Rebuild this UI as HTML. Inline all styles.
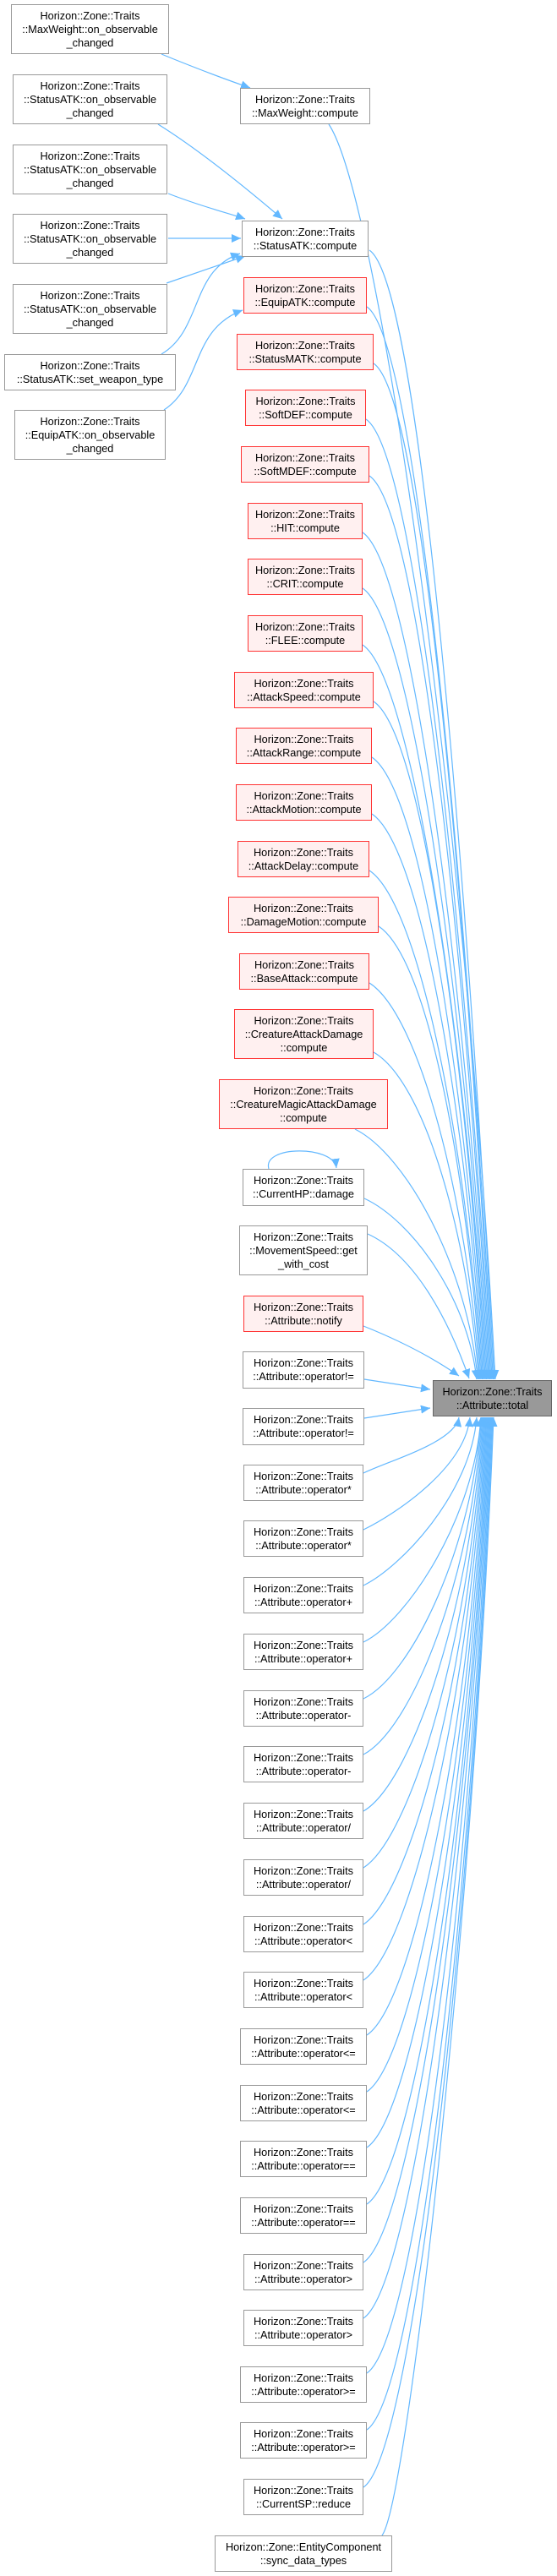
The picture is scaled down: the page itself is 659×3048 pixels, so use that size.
<!DOCTYPE html>
<html><head><meta charset="utf-8"><style>
body{margin:0;background:#fff;width:659px;height:3048px;position:relative;overflow:hidden;font-family:"Liberation Sans",Arial,sans-serif}
.n{position:absolute;box-sizing:border-box;border:1.5px solid #999;background:#fff;font-size:12.7px;line-height:16px;text-align:center;color:#000;display:flex;align-items:center;justify-content:center;white-space:pre}
.r{border-color:#f33;background:#fff0f0}
.t{background:#999;border-color:#666}
svg{position:absolute;left:0;top:0}
</style></head><body>
<svg id="s" width="659" height="3048" viewBox="0 0 659 3048">
<defs><marker id="a" markerUnits="userSpaceOnUse" markerWidth="12" markerHeight="10" refX="11" refY="5" orient="auto"><path d="M0,0 L11,5 L0,10 Z" fill="#63b8ff"/></marker></defs>
<g id="g" fill="none" stroke="#63b8ff" stroke-width="1.2">
<path d="M191,64 C230,80 270,95 296,104" marker-end="url(#a)"/>
<path d="M187,147 C240,180 300,230 334,259" marker-end="url(#a)"/>
<path d="M199,229 C240,245 270,252 290,259" marker-end="url(#a)"/>
<path d="M199,282 L285,282" marker-end="url(#a)"/>
<path d="M197,335 C240,320 270,310 290,303" marker-end="url(#a)"/>
<path d="M191,419 C240,390 225,320 284,300" marker-end="url(#a)"/>
<path d="M194,485 C240,455 225,390 287,367" marker-end="url(#a)"/>
<path d="M318,1383 C310,1355 395,1355 398,1382" marker-end="url(#a)"/>
</g></svg>
<div class="n" style="left:13px;top:5px;width:187px;height:59px">Horizon::Zone::Traits
::MaxWeight::on_observable
_changed</div>
<div class="n" style="left:15px;top:88px;width:183px;height:59px">Horizon::Zone::Traits
::StatusATK::on_observable
_changed</div>
<div class="n" style="left:15px;top:171px;width:183px;height:59px">Horizon::Zone::Traits
::StatusATK::on_observable
_changed</div>
<div class="n" style="left:15px;top:253px;width:183px;height:59px">Horizon::Zone::Traits
::StatusATK::on_observable
_changed</div>
<div class="n" style="left:15px;top:336px;width:183px;height:59px">Horizon::Zone::Traits
::StatusATK::on_observable
_changed</div>
<div class="n" style="left:5px;top:419px;width:203px;height:43px">Horizon::Zone::Traits
::StatusATK::set_weapon_type</div>
<div class="n" style="left:17px;top:485px;width:179px;height:59px">Horizon::Zone::Traits
::EquipATK::on_observable
_changed</div>
<div class="n" style="left:284px;top:104px;width:154px;height:43px">Horizon::Zone::Traits
::MaxWeight::compute</div>
<div class="n" style="left:286px;top:261px;width:150px;height:43px">Horizon::Zone::Traits
::StatusATK::compute</div>
<div class="n r" style="left:288px;top:328px;width:146px;height:43px">Horizon::Zone::Traits
::EquipATK::compute</div>
<div class="n r" style="left:280px;top:395px;width:162px;height:43px">Horizon::Zone::Traits
::StatusMATK::compute</div>
<div class="n r" style="left:290px;top:461px;width:143px;height:43px">Horizon::Zone::Traits
::SoftDEF::compute</div>
<div class="n r" style="left:285px;top:528px;width:152px;height:43px">Horizon::Zone::Traits
::SoftMDEF::compute</div>
<div class="n r" style="left:293px;top:595px;width:136px;height:43px">Horizon::Zone::Traits
::HIT::compute</div>
<div class="n r" style="left:293px;top:661px;width:136px;height:43px">Horizon::Zone::Traits
::CRIT::compute</div>
<div class="n r" style="left:293px;top:728px;width:136px;height:43px">Horizon::Zone::Traits
::FLEE::compute</div>
<div class="n r" style="left:277px;top:795px;width:165px;height:43px">Horizon::Zone::Traits
::AttackSpeed::compute</div>
<div class="n r" style="left:279px;top:861px;width:161px;height:43px">Horizon::Zone::Traits
::AttackRange::compute</div>
<div class="n r" style="left:279px;top:928px;width:161px;height:43px">Horizon::Zone::Traits
::AttackMotion::compute</div>
<div class="n r" style="left:281px;top:995px;width:156px;height:43px">Horizon::Zone::Traits
::AttackDelay::compute</div>
<div class="n r" style="left:270px;top:1061px;width:178px;height:43px">Horizon::Zone::Traits
::DamageMotion::compute</div>
<div class="n r" style="left:283px;top:1128px;width:154px;height:43px">Horizon::Zone::Traits
::BaseAttack::compute</div>
<div class="n r" style="left:277px;top:1194px;width:165px;height:59px">Horizon::Zone::Traits
::CreatureAttackDamage
::compute</div>
<div class="n r" style="left:259px;top:1277px;width:200px;height:59px">Horizon::Zone::Traits
::CreatureMagicAttackDamage
::compute</div>
<div class="n" style="left:287px;top:1383px;width:144px;height:44px">Horizon::Zone::Traits
::CurrentHP::damage</div>
<div class="n" style="left:283px;top:1450px;width:152px;height:59px">Horizon::Zone::Traits
::MovementSpeed::get
_with_cost</div>
<div class="n r" style="left:288px;top:1533px;width:142px;height:43px">Horizon::Zone::Traits
::Attribute::notify</div>
<div class="n t" style="left:512px;top:1633px;width:141px;height:43px">Horizon::Zone::Traits
::Attribute::total</div>
<div class="n" style="left:287px;top:1599px;width:144px;height:44px">Horizon::Zone::Traits
::Attribute::operator!=</div>
<div class="n" style="left:287px;top:1666px;width:144px;height:44px">Horizon::Zone::Traits
::Attribute::operator!=</div>
<div class="n" style="left:288px;top:1733px;width:142px;height:43px">Horizon::Zone::Traits
::Attribute::operator*</div>
<div class="n" style="left:288px;top:1799px;width:142px;height:43px">Horizon::Zone::Traits
::Attribute::operator*</div>
<div class="n" style="left:288px;top:1866px;width:142px;height:43px">Horizon::Zone::Traits
::Attribute::operator+</div>
<div class="n" style="left:288px;top:1933px;width:142px;height:43px">Horizon::Zone::Traits
::Attribute::operator+</div>
<div class="n" style="left:288px;top:2000px;width:142px;height:43px">Horizon::Zone::Traits
::Attribute::operator-</div>
<div class="n" style="left:288px;top:2066px;width:142px;height:43px">Horizon::Zone::Traits
::Attribute::operator-</div>
<div class="n" style="left:288px;top:2133px;width:142px;height:43px">Horizon::Zone::Traits
::Attribute::operator/</div>
<div class="n" style="left:288px;top:2200px;width:142px;height:43px">Horizon::Zone::Traits
::Attribute::operator/</div>
<div class="n" style="left:288px;top:2267px;width:142px;height:43px">Horizon::Zone::Traits
::Attribute::operator&lt;</div>
<div class="n" style="left:288px;top:2333px;width:142px;height:43px">Horizon::Zone::Traits
::Attribute::operator&lt;</div>
<div class="n" style="left:284px;top:2400px;width:150px;height:43px">Horizon::Zone::Traits
::Attribute::operator&lt;=</div>
<div class="n" style="left:284px;top:2467px;width:150px;height:43px">Horizon::Zone::Traits
::Attribute::operator&lt;=</div>
<div class="n" style="left:284px;top:2533px;width:150px;height:43px">Horizon::Zone::Traits
::Attribute::operator==</div>
<div class="n" style="left:284px;top:2600px;width:150px;height:43px">Horizon::Zone::Traits
::Attribute::operator==</div>
<div class="n" style="left:288px;top:2667px;width:142px;height:43px">Horizon::Zone::Traits
::Attribute::operator&gt;</div>
<div class="n" style="left:288px;top:2733px;width:142px;height:43px">Horizon::Zone::Traits
::Attribute::operator&gt;</div>
<div class="n" style="left:284px;top:2800px;width:150px;height:43px">Horizon::Zone::Traits
::Attribute::operator&gt;=</div>
<div class="n" style="left:284px;top:2866px;width:150px;height:43px">Horizon::Zone::Traits
::Attribute::operator&gt;=</div>
<div class="n" style="left:288px;top:2933px;width:142px;height:43px">Horizon::Zone::Traits
::CurrentSP::reduce</div>
<div class="n" style="left:254px;top:3000px;width:210px;height:43px">Horizon::Zone::EntityComponent
::sync_data_types</div>
<script>
(function(){
var g=document.getElementById('g'),NS='http://www.w3.org/2000/svg';
function P(d){var p=document.createElementNS(NS,'path');p.setAttribute('d',d);p.setAttribute('marker-end','url(#a)');g.appendChild(p);}
// upper callers: [sx, sy]
var up=[[389,147],[437,296],[434,363],[442,430],[433,496],[437,563],[429,630],[429,696],[429,763],[442,830],[440,896],[440,963],[437,1030],[448,1096],[437,1163],[442,1245],[420,1336],[431,1418]];
var n=up.length;
for(var i=0;i<n;i++){var sx=up[i][0],sy=up[i][1];var ex=586-i*1.3,ey=1632;var dy=ey-sy;
var c1x=sx+Math.min(60,dy*0.12+30),c1y=sy+Math.min(40,dy*0.05+15);
if(i==0){c1x=sx+60;c1y=sy+90;}
P('M'+sx+','+sy+' C'+c1x+','+c1y+' '+(ex-6-dy*0.02)+','+(ey-dy*0.45)+' '+ex+','+ey);}
P('M435,1460 C490,1485 530,1560 555,1631');
P('M430,1569 C470,1585 510,1605 543,1628');
P('M431,1632 L509,1644');
P('M431,1678 L509,1666');
// lower callers
var lo=[[430,1743],[430,1810],[430,1876],[430,1943],[430,2010],[430,2076],[430,2143],[430,2210],[430,2277],[430,2343],[434,2408],[434,2475],[434,2541],[434,2608],[430,2677],[430,2743],[434,2808],[434,2875],[430,2943],[452,3000]];
for(var j=0;j<lo.length;j++){var sx=lo[j][0],sy=lo[j][1];var ex=(j<4?[543,556,564,569][j]:569+(j-4)*1.0),ey=1677;var dy=sy-ey;
var c1x=sx+Math.min(60,dy*0.1+25),c1y=sy-Math.min(40,dy*0.05+12);
if(j==lo.length-1){c1x=sx+30;c1y=sy-40;}
P('M'+sx+','+sy+' C'+c1x+','+c1y+' '+(ex-4-dy*0.015)+','+(ey+dy*0.45)+' '+ex+','+ey);}
})();
</script>
</body></html>
